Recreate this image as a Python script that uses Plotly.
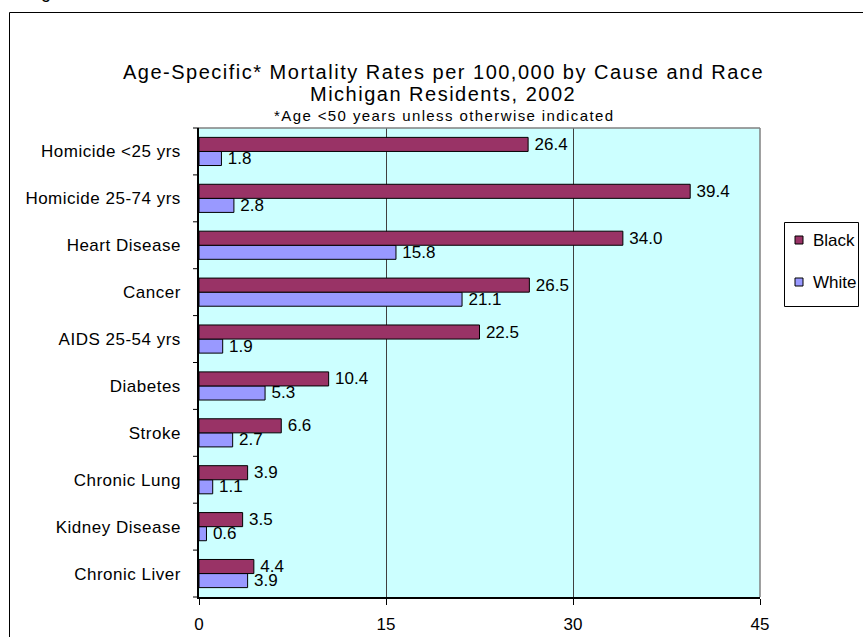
import plotly.graph_objects as go

# Causes of death, listed bottom to top as they appear on the category axis
causes = [
    "Chronic Liver",
    "Kidney Disease",
    "Chronic Lung",
    "Stroke",
    "Diabetes",
    "AIDS 25-54 yrs",
    "Cancer",
    "Heart Disease",
    "Homicide 25-74 yrs",
    "Homicide <25 yrs",
]
black_rates = [4.4, 3.5, 3.9, 6.6, 10.4, 22.5, 26.5, 34.0, 39.4, 26.4]
white_rates = [3.9, 0.6, 1.1, 2.7, 5.3, 1.9, 21.1, 15.8, 2.8, 1.8]

x_ticks = [0, 15, 30, 45]

series_names = ["Black", "White"]
series_colors = {"Black": "#993366", "White": "#9999FF"}

W, H = 863, 637
L, R, T, B = 199, 103, 128, 40
PW, PH = W - L - R, H - T - B


def px_x(p):
    return (p - L) / PW


def px_y(p):
    return (H - B - p) / PH


def spaced(s, sp):
    return '<span style="letter-spacing:%.2fpx">%s</span>' % (sp, s)


FONT = "Arial, Liberation Sans, sans-serif"

fig = go.Figure()

# White first so that Black sits on top within each category group
for name, vals in (("White", white_rates), ("Black", black_rates)):
    fig.add_trace(go.Bar(
        y=causes, x=vals, orientation="h", name=name,
        marker=dict(color=series_colors[name],
                    line=dict(color="#000000", width=1)),
        text=vals, texttemplate="\u2009%{x:.1f}", textposition="outside",
        textfont=dict(family=FONT, size=17, color="#000000"),
        constraintext="none", cliponaxis=False, showlegend=False,
    ))

shapes = [
    # plot-area frame (top and right edges)
    dict(type="line", xref="paper", yref="paper", x0=0, x1=1, y0=1, y1=1,
         line=dict(color="#808080", width=1.5)),
    dict(type="line", xref="paper", yref="paper", x0=1, x1=1, y0=0, y1=1,
         line=dict(color="#808080", width=1.5)),
    # chart border
    dict(type="rect", xref="paper", yref="paper",
         x0=px_x(9.5), x1=px_x(880), y0=px_y(660), y1=px_y(12.5),
         line=dict(color="#000000", width=1), fillcolor="rgba(0,0,0,0)"),
    # legend box
    dict(type="rect", xref="paper", yref="paper",
         x0=px_x(784.5), x1=px_x(858.5), y0=px_y(306.5), y1=px_y(222.5),
         line=dict(color="#000000", width=1), fillcolor="#FFFFFF"),
]

annotations = [
    dict(text=spaced("Age-Specific* Mortality Rates per 100,000 by Cause and Race", 1.5),
         x=px_x(443), y=px_y(72), xref="paper", yref="paper",
         xanchor="center", yanchor="middle",
         showarrow=False, font=dict(family=FONT, size=20, color="#000000")),
    dict(text=spaced("Michigan Residents, 2002", 1.5),
         x=px_x(443), y=px_y(94), xref="paper", yref="paper",
         xanchor="center", yanchor="middle",
         showarrow=False, font=dict(family=FONT, size=20, color="#000000")),
    dict(text=spaced("*Age <50 years unless otherwise indicated", 1.4),
         x=px_x(444), y=px_y(115), xref="paper", yref="paper",
         xanchor="center", yanchor="middle",
         showarrow=False, font=dict(family=FONT, size=15, color="#000000")),
    dict(text="Figure 3", x=px_x(24), y=px_y(4), xref="paper", yref="paper",
         xanchor="left", yanchor="bottom", showarrow=False,
         font=dict(family=FONT, size=18, color="#000000")),
]

# legend entries
for name, yc in zip(series_names, (240, 282)):
    shapes.append(dict(type="rect", xref="paper", yref="paper",
                       x0=px_x(795), x1=px_x(803), y0=px_y(yc + 4), y1=px_y(yc - 4),
                       line=dict(color="#000000", width=1),
                       fillcolor=series_colors[name]))
    annotations.append(dict(text=name, x=px_x(811), y=px_y(yc),
                            xref="paper", yref="paper",
                            xanchor="left", yanchor="middle", showarrow=False,
                            font=dict(family=FONT, size=17, color="#000000")))

# boundary tick marks between categories on the left axis
for i in range(len(causes) + 1):
    yp = i / len(causes)
    shapes.append(dict(type="line", xref="paper", yref="paper",
                       x0=px_x(193), x1=0, y0=yp, y1=yp,
                       line=dict(color="#000000", width=1)))

fig.update_layout(
    width=W, height=H,
    margin=dict(l=L, r=R, t=T, b=B, pad=0, autoexpand=False),
    paper_bgcolor="#FFFFFF",
    plot_bgcolor="#CCFFFF",
    barmode="group",
    bargap=0.4,
    bargroupgap=0,
    font=dict(family=FONT, size=17, color="#000000"),
    showlegend=False,
    xaxis=dict(
        range=[0, 45], tickvals=x_ticks, ticktext=[str(v) for v in x_ticks],
        showgrid=True, gridcolor="#404040", gridwidth=1,
        showline=True, linecolor="#000000", linewidth=1.5,
        ticks="outside", ticklen=6, tickcolor="#000000",
        zeroline=False, fixedrange=True,
        tickfont=dict(family=FONT, size=17), ticklabelstandoff=5,
    ),
    yaxis=dict(
        categoryorder="array", categoryarray=causes,
        tickvals=causes, ticktext=[spaced(c, 0.5) for c in causes],
        showline=True, linecolor="#000000", linewidth=1.5,
        ticks="", showgrid=False, zeroline=False, fixedrange=True,
        tickfont=dict(family=FONT, size=17), ticklabelstandoff=13,
    ),
    shapes=shapes,
    annotations=annotations,
)

fig.write_html("out.html")
